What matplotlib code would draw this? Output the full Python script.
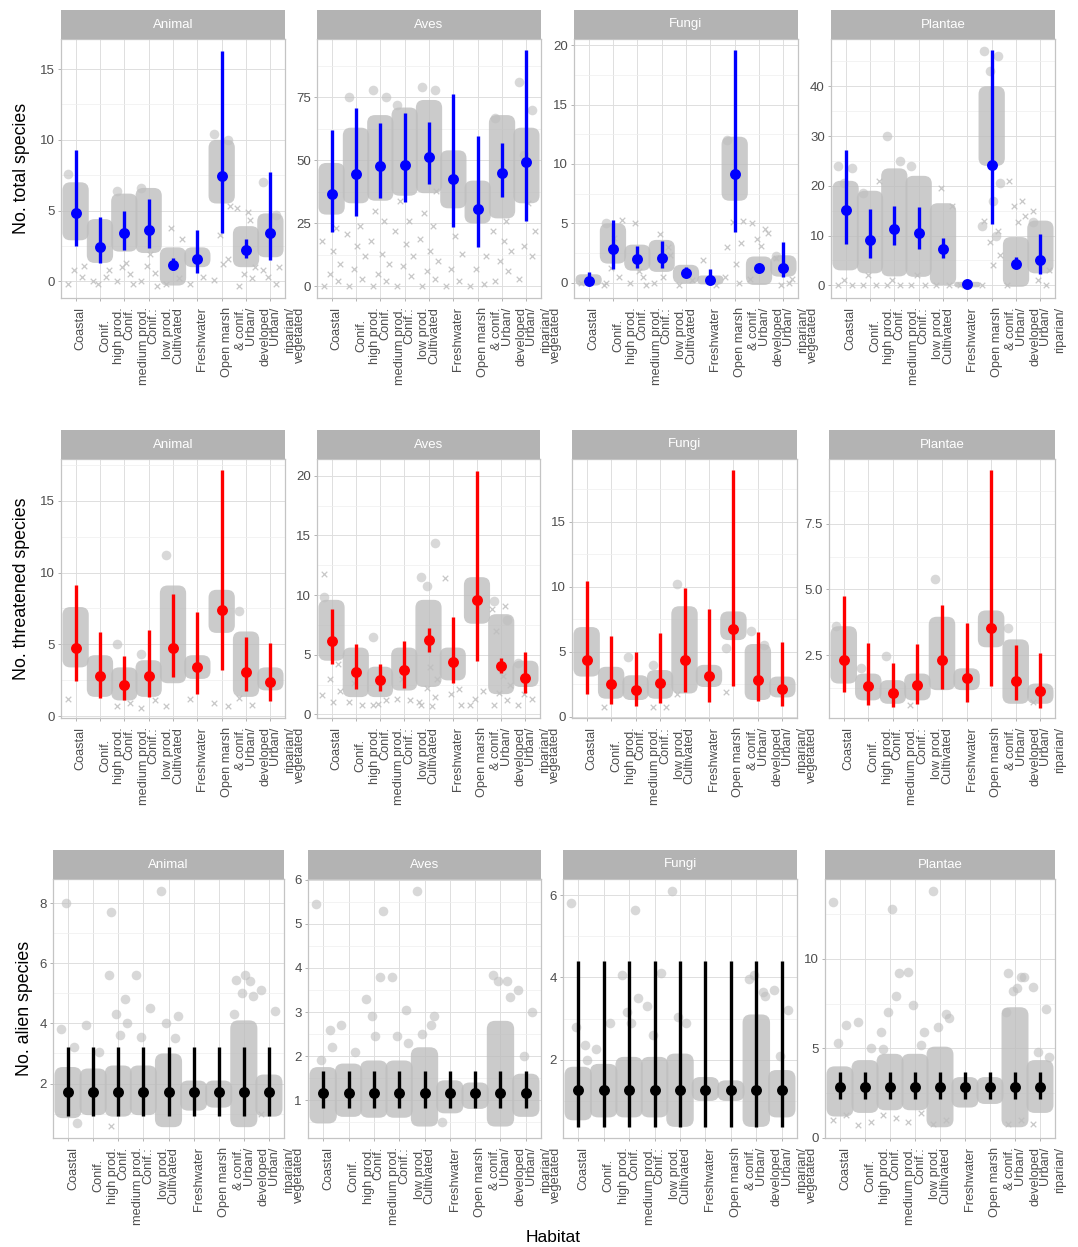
import matplotlib
matplotlib.use("Agg")
import matplotlib.pyplot as plt
from matplotlib.patches import FancyBboxPatch
from matplotlib.transforms import blended_transform_factory, ScaledTranslation
from matplotlib.ticker import MultipleLocator, FixedLocator, FormatStrFormatter

plt.rcParams['font.family'] = ['Liberation Sans', 'DejaVu Sans']

# ---------------- data ----------------
kingdoms = ["Animal", "Aves", "Fungi", "Plantae"]
habitats = ["Coastal", "Conif. high prod.", "Conif. medium prod.", "Conif.: low prod.",
            "Cultivated", "Freshwater", "Open marsh", "Urban/ & conif.", "Urban/ developed"]
# text pieces printed under each tick (left line, right line), last slot spills over
tick_label_lines = [("", "Coastal"), ("", "Conif."), ("high prod.", "Conif."),
                    ("medium prod.", "Conif.:"), ("low prod.", "Cultivated"), ("", "Freshwater"),
                    ("", "Open marsh"), ("& conif.", "Urban/"), ("developed", "Urban/"),
                    ("riparian/", "vegetated")]

# row 1: total species (estimate, lower, upper)
total_est = {"Animal": [4.8, 2.43, 3.38, 3.61, 1.18, 1.56, 7.47, 2.24, 3.43],
             "Aves": [36.6, 44.5, 47.8, 48.1, 51.5, 42.5, 30.8, 44.9, 49.2],
             "Fungi": [0.11, 2.82, 1.97, 2.08, 0.82, 0.25, 9.18, 1.24, 1.24],
             "Plantae": [15.1, 9.08, 11.4, 10.6, 7.26, 0.2, 24.2, 4.37, 5.04]}
total_lo = {"Animal": [2.5, 1.32, 2.24, 2.32, 0.83, 0.61, 3.43, 1.68, 1.54],
            "Aves": [21.6, 27.9, 35.0, 33.7, 40.6, 23.4, 15.7, 35.3, 26.0],
            "Fungi": [-0.2, 1.18, 1.27, 1.24, 0.48, -0.14, 4.28, 0.9, 0.48],
            "Plantae": [8.27, 5.5, 8.2, 7.2, 5.5, -0.2, 12.3, 3.7, 2.35]}
total_hi = {"Animal": [9.3, 4.56, 5.0, 5.79, 1.68, 3.66, 16.3, 3.0, 7.75],
            "Aves": [62.1, 71.0, 65.0, 68.8, 65.4, 76.5, 59.7, 56.8, 93.7],
            "Fungi": [0.9, 5.27, 3.07, 3.52, 1.32, 1.18, 19.6, 1.6, 3.44],
            "Plantae": [27.1, 15.3, 16.0, 15.8, 9.55, 0.6, 47.3, 5.7, 10.4]}
# observed site values: dense range per habitat
total_obs_lo = {"Animal": [2.9, 1.3, 2.1, 2.0, -0.3, 1.0, 5.5, 1.0, 1.7],
                "Aves": [28.5, 33, 34, 36, 37, 31, 25, 27, 33],
                "Fungi": [-0.25, 1.6, 1.0, 0.9, -0.1, -0.15, 6.9, -0.2, 0.5],
                "Plantae": [3.0, 2.4, 1.8, 1.7, 0.0, -0.4, 24.0, -0.3, 2.4]}
total_obs_hi = {"Animal": [7.0, 4.4, 6.2, 6.6, 2.4, 2.4, 10.0, 3.9, 4.8],
                "Aves": [49, 63, 68, 71, 74, 54, 42, 68, 63],
                "Fungi": [0.7, 5.0, 3.2, 3.6, 1.5, 0.6, 12.3, 2.2, 2.3],
                "Plantae": [21.0, 19.0, 23.5, 22.0, 16.5, 0.7, 40.0, 9.7, 13.0]}
# isolated sites (habitat index, value)
total_sites = {"Animal": [(0, 7.6), (2, 6.4), (3, 6.6), (6, 10.4), (6, 10.0), (8, 7.0), (8, 4.7)],
               "Aves": [(1, 75), (2, 78), (2, 75), (3, 72), (4, 79), (4, 78), (7, 67), (8, 81), (8, 70), (8, 52)],
               "Fungi": [(1, 5.0), (6, 12.0), (8, 2.2)],
               "Plantae": [(0, 24.0), (0, 23.5), (0, 20.5), (1, 18.5), (2, 30.0), (2, 25.0), (3, 24.0),
                           (6, 47.0), (6, 46.0), (6, 43.0), (6, 20.5), (6, 17.0), (6, 12.0), (6, 10.0), (8, 12.8)]}
# sites drawn with crosses
total_cross = {"Animal": [(0, -0.2), (0, 0.3), (0, 0.8), (0, 1.1), (1, 0.0), (1, 0.3), (1, -0.2), (1, 0.8),
                          (2, 0.0), (2, 0.5), (2, 1.0), (2, -0.2), (2, 1.3), (3, 0.0), (3, 0.6), (3, 1.1),
                          (3, -0.3), (3, 1.9), (4, -0.2), (4, 0.2), (4, 3.8), (4, 3.0), (5, -0.2), (5, 0.3),
                          (6, 0.1), (6, 1.6), (6, 3.3), (6, 5.3), (6, 1.2), (7, -0.3), (7, 0.2), (7, 0.5),
                          (7, 1.0), (7, 4.9), (7, 5.2), (7, 4.3), (8, 0.8), (8, -0.2), (8, 0.3), (8, 1.0)],
               "Aves": [(0, 0), (0, 2), (0, 5), (0, 9), (0, 14), (0, 18), (0, 23),
                        (1, 0), (1, 3), (1, 7), (1, 12), (1, 16), (1, 21), (1, 24),
                        (2, 0), (2, 2), (2, 5), (2, 9), (2, 13), (2, 18), (2, 26), (2, 30),
                        (3, 0), (3, 4), (3, 8), (3, 12), (3, 17), (3, 22), (3, 26), (3, 34),
                        (4, 0), (4, 3), (4, 6), (4, 10), (4, 14), (4, 19), (4, 24), (4, 29), (4, 38),
                        (5, 0), (5, 2), (5, 7), (5, 13), (5, 20), (6, 0), (6, 1), (6, 7), (6, 12),
                        (7, 2), (7, 6), (7, 10), (7, 14), (7, 18), (7, 22), (7, 26),
                        (8, 3), (8, 12), (8, 16), (8, 22), (8, 33)],
               "Fungi": [(0, 0.0), (1, 0.0), (1, 0.5), (1, 1.2), (1, 5.3), (1, 3.8), (1, -0.2),
                         (2, 0.0), (2, 0.5), (2, 5.0), (2, -0.2), (2, 1.0), (3, 0.0), (3, 3.0), (3, 4.1),
                         (3, 2.3), (3, 0.5), (4, -0.2), (4, 0.2), (5, 1.9), (5, -0.2),
                         (6, 3.0), (6, 3.3), (6, 5.1), (6, 5.2), (6, 1.6), (6, 0.5), (6, 0.0),
                         (7, 5.0), (7, 4.5), (7, 3.7), (7, 4.2), (7, 3.1), (7, 0.3),
                         (8, 2.1), (8, 0.0), (8, -0.2), (8, 0.3)],
               "Plantae": [(0, 0), (0, 0), (0, 1), (1, 0), (1, 0), (1, 2), (1, 21), (2, 0), (2, 0), (2, 1),
                           (3, 0), (3, 0), (3, 2), (4, 0), (4, 0), (4, 19.5), (4, 16), (5, 0),
                           (6, 13), (6, 11), (6, 8.7), (6, 6), (6, 4), (6, 0), (7, 21), (7, 17), (7, 16),
                           (7, 14), (7, 12.8), (7, 0), (8, 15), (8, 0), (8, 1), (8, 3)]}

# row 2: threatened species
threat_est = {"Animal": [4.77, 2.79, 2.21, 2.83, 4.77, 3.41, 7.38, 3.09, 2.39],
              "Aves": [6.18, 3.55, 2.88, 3.69, 6.21, 4.39, 9.57, 4.03, 3.08],
              "Fungi": [4.36, 2.56, 2.05, 2.62, 4.36, 3.13, 6.74, 2.87, 2.18],
              "Plantae": [2.31, 1.33, 1.06, 1.36, 2.31, 1.65, 3.55, 1.51, 1.14]}
threat_lo = {"Animal": [2.44, 1.30, 1.16, 1.35, 2.70, 1.53, 3.2, 1.74, 1.07],
             "Aves": [4.2, 2.15, 1.96, 2.24, 5.23, 2.63, 4.45, 3.47, 1.79],
             "Fungi": [1.79, 1.03, 0.82, 1.08, 1.92, 1.15, 2.38, 1.23, 0.82],
             "Plantae": [1.1, 0.6, 0.53, 0.63, 1.22, 0.72, 1.33, 0.78, 0.5]}
threat_hi = {"Animal": [9.14, 5.83, 4.2, 6.0, 8.49, 7.27, 17.1, 5.53, 5.13],
             "Aves": [8.81, 5.87, 4.2, 6.15, 7.27, 8.17, 20.4, 4.73, 5.23],
             "Fungi": [10.46, 6.23, 5.0, 6.41, 9.87, 8.31, 18.92, 6.49, 5.77],
             "Plantae": [4.75, 2.98, 2.22, 2.92, 4.41, 3.71, 9.53, 2.87, 2.59]}
threat_obs_lo = {"Animal": [3.4, 1.35, 1.1, 1.35, 2.3, 2.6, 5.8, 1.35, 1.8],
                 "Aves": [4.5, 1.45, 1.45, 2.0, 2.3, 2.85, 7.6, 1.7, 2.3],
                 "Fungi": [3.1, 1.4, 1.3, 1.4, 1.8, 2.3, 5.9, 1.3, 1.5],
                 "Plantae": [1.42, 0.78, 0.65, 0.78, 1.17, 1.17, 2.8, 0.65, 0.65]}
threat_obs_hi = {"Animal": [7.6, 4.25, 3.4, 3.9, 9.1, 4.25, 8.8, 5.9, 3.4],
                 "Aves": [9.6, 5.6, 4.0, 5.6, 9.6, 5.6, 11.5, 8.4, 4.5],
                 "Fungi": [6.9, 3.85, 3.2, 3.6, 8.5, 4.0, 8.1, 5.6, 3.1],
                 "Plantae": [3.6, 1.8, 1.55, 1.8, 3.96, 2.0, 4.2, 3.1, 1.42]}
threat_sites = {"Animal": [(2, 5.0), (3, 4.3), (4, 11.2), (7, 7.3)],
                "Aves": [(0, 9.8), (2, 6.5), (4, 11.5), (4, 14.4), (4, 10.8), (7, 9.5), (7, 7.9), (8, 4.3)],
                "Fungi": [(2, 4.6), (3, 4.0), (4, 10.2), (6, 5.3), (7, 6.6), (7, 5.5)],
                "Plantae": [(0, 3.6), (1, 2.0), (2, 2.45), (4, 5.4), (7, 3.55)]}
threat_cross = {"Animal": [(0, 1.2), (2, 0.7), (2, 0.9), (3, 0.6), (3, 1.1), (4, 0.7), (5, 1.2),
                           (6, 0.9), (6, 0.7), (7, 1.3), (7, 0.8)],
                "Aves": [(0, 11.8), (0, 4.2), (0, 3.0), (0, 2.0), (0, 1.0), (0, 1.6), (1, 1.0), (1, 0.8),
                         (1, 2.6), (2, 0.8), (2, 1.2), (2, 0.9), (3, 1.3), (3, 1.2), (3, 3.0),
                         (4, 0.8), (4, 1.5), (4, 2.2), (4, 3.0), (4, 4.0), (4, 1.0), (4, 0.7),
                         (5, 11.4), (5, 2.1), (5, 1.7), (5, 0.8), (6, 0.8), (6, 2.0), (6, 1.3),
                         (7, 0.8), (7, 1.2), (7, 1.8), (7, 2.5), (7, 3.2), (7, 8.8), (7, 9.1), (7, 7.0),
                         (8, 0.8), (8, 1.3), (8, 1.7)],
                "Fungi": [(1, 0.8), (3, 0.8), (3, 0.8), (4, 1.8), (6, 1.9)],
                "Plantae": [(3, 0.6), (8, 0.7)]}

# row 3: alien species
alien_est = {"Animal": [1.72] * 9, "Aves": [1.17] * 9, "Fungi": [1.26] * 9, "Plantae": [2.82] * 9}
alien_lo = {"Animal": [0.91] * 9, "Aves": [0.83] * 9, "Fungi": [0.37] * 9, "Plantae": [2.16] * 9}
alien_hi = {"Animal": [3.2] * 9, "Aves": [1.66] * 9, "Fungi": [4.41] * 9, "Plantae": [3.66] * 9}
alien_obs_lo = {"Animal": [0.85, 0.95, 0.9, 0.95, 0.55, 1.1, 1.2, 0.55, 0.9],
                "Aves": [0.47, 0.62, 0.6, 0.6, 0.4, 0.7, 0.8, 0.4, 0.62],
                "Fungi": [0.53, 0.6, 0.6, 0.6, 0.37, 1.0, 1.0, 0.37, 0.6],
                "Plantae": [1.2, 1.4, 1.55, 1.55, 0.6, 1.7, 1.9, 0.6, 1.4]}
alien_obs_hi = {"Animal": [2.55, 2.5, 2.6, 2.6, 3.0, 2.1, 2.1, 4.1, 2.3],
                "Aves": [1.75, 1.83, 1.9, 1.9, 2.2, 1.45, 1.4, 2.8, 1.6],
                "Fungi": [1.83, 1.9, 2.07, 2.07, 2.15, 1.58, 1.5, 3.1, 1.75],
                "Plantae": [4.0, 4.35, 4.7, 4.7, 5.1, 3.4, 3.4, 7.3, 4.35]}
alien_sites = {"Animal": [(0, 3.8), (0, 3.2), (0, 8.0), (0, 0.7), (1, 3.95), (1, 3.05), (2, 7.7), (2, 4.8),
                          (2, 4.3), (2, 4.0), (2, 3.6), (2, 5.6), (3, 5.6), (3, 4.5), (3, 3.55), (4, 8.4),
                          (4, 3.5), (4, 4.0), (4, 4.25), (7, 5.45), (7, 5.4), (7, 5.0), (7, 4.9), (7, 5.6),
                          (7, 4.3), (8, 5.1), (8, 4.4)],
               "Aves": [(0, 5.45), (0, 2.6), (0, 1.9), (0, 2.2), (1, 2.7), (1, 2.1), (2, 3.3), (2, 3.8),
                        (2, 2.9), (2, 5.3), (2, 2.45), (3, 3.8), (3, 3.05), (3, 2.45), (3, 2.3), (4, 5.75),
                        (4, 2.7), (4, 2.5), (4, 2.9), (5, 0.5), (7, 3.85), (7, 3.7), (7, 3.7), (7, 3.35),
                        (8, 3.5), (8, 3.0), (8, 2.0)],
               "Fungi": [(0, 5.8), (0, 2.35), (0, 2.8), (0, 2.0), (1, 2.25), (1, 2.9), (2, 4.07), (2, 5.64),
                         (2, 3.15), (2, 3.5), (2, 2.9), (3, 3.3), (3, 4.1), (3, 2.6), (4, 6.1), (4, 2.9),
                         (4, 3.05), (7, 3.95), (7, 3.65), (7, 4.07), (7, 3.55), (8, 3.7), (8, 3.2), (8, 2.1)],
               "Plantae": [(0, 13.15), (0, 6.3), (0, 5.3), (1, 6.5), (1, 5.0), (2, 4.95), (2, 7.9), (2, 7.05),
                           (2, 9.2), (2, 12.8), (2, 5.9), (3, 9.25), (3, 5.2), (3, 7.4), (3, 5.9), (4, 13.8),
                           (4, 6.95), (4, 6.2), (4, 6.7), (7, 9.2), (7, 9.0), (7, 8.2), (7, 9.0), (7, 8.35),
                           (7, 7.05), (8, 8.45), (8, 7.2), (8, 4.8), (8, 4.5)]}
alien_cross = {"Animal": [(2, 0.6), (8, 1.0)],
               "Aves": [],
               "Fungi": [],
               "Plantae": [(0, 1.0), (0, 1.3), (1, 0.7), (1, 0.9), (2, 1.3), (2, 1.1), (3, 0.9), (3, 1.4),
                           (4, 0.8), (4, 1.0), (7, 0.8), (7, 1.0), (8, 0.8)]}

# ---------------- layout ----------------
W, H = 1078, 1247
fig = plt.figure(figsize=(W / 100, H / 100), dpi=100)

rows = [
    dict(title="No. total species", colour="#0000FF", est=total_est, lo=total_lo, hi=total_hi,
         olo=total_obs_lo, ohi=total_obs_hi, sites=total_sites, cross=total_cross,
         strip_top=10, panel_top=39, panel_bot=298,
         cols=[(61, 285), (317, 541), (574, 798), (831, 1055)],
         ylims=[(-1.18, 17.13), (-4.6, 98.2), (-1.3, 20.54), (-2.55, 49.5)],
         yticks=[[0, 5, 10, 15], [0, 25, 50, 75], [0, 5, 10, 15, 20], [0, 10, 20, 30, 40]],
         title_x=22),
    dict(title="No. threatened species", colour="#FF0000", est=threat_est, lo=threat_lo, hi=threat_hi,
         olo=threat_obs_lo, ohi=threat_obs_hi, sites=threat_sites, cross=threat_cross,
         strip_top=430, panel_top=459, panel_bot=718,
         cols=[(61, 285), (317, 540), (572, 797), (829, 1055)],
         ylims=[(-0.12, 17.9), (-0.3, 21.4), (-0.08, 19.8), (0.11, 9.96)],
         yticks=[[0, 5, 10, 15], [0, 5, 10, 15, 20], [0, 5, 10, 15], [2.5, 5.0, 7.5]],
         title_x=22),
    dict(title="No. alien species", colour="#000000", est=alien_est, lo=alien_lo, hi=alien_hi,
         olo=alien_obs_lo, ohi=alien_obs_hi, sites=alien_sites, cross=alien_cross,
         strip_top=850, panel_top=879, panel_bot=1138,
         cols=[(53, 284), (308, 541), (563, 797), (825, 1055)],
         ylims=[(0.19, 8.8), (0.14, 6.02), (0.1, 6.39), (0.0, 14.46)],
         yticks=[[2, 4, 6, 8], [1, 2, 3, 4, 5, 6], [2, 4, 6], [0, 5, 10]],
         title_x=25),
]

JITTER = (-0.3, 0.25, -0.08, 0.36, 0.06, -0.38, 0.16, -0.2, 0.3)
GREY = "#BEBEBE"
TXT = "#4D4D4D"


def frac(x0, y0, x1, y1):
    return [x0 / W, 1 - y1 / H, (x1 - x0) / W, (y1 - y0) / H]


def band(ax, x, lo, hi, w, alpha, px_x, px_y):
    # cloud of overlapping site points shown as one soft rounded column
    h = max(hi - lo, 1e-6)
    ma = px_x / px_y
    rs = min(w * 0.3, h / ma / 2)
    p = FancyBboxPatch((x - w / 2, lo), w, h,
                       boxstyle="round,pad=0,rounding_size=%f" % rs,
                       mutation_aspect=ma, fc=GREY, ec="none", alpha=alpha, zorder=2)
    ax.add_patch(p)


def jittered(pairs):
    count = {}
    xs, ys = [], []
    for h, v in pairs:
        k = count.get(h, 0)
        count[h] = k + 1
        xs.append(h + JITTER[k % len(JITTER)])
        ys.append(v)
    return xs, ys


for r, row in enumerate(rows):
    for c, king in enumerate(kingdoms):
        x0, x1 = row["cols"][c]
        ax = fig.add_axes(frac(x0, row["panel_top"], x1, row["panel_bot"]))
        sax = fig.add_axes(frac(x0, row["strip_top"], x1, row["panel_top"]))

        # strip
        sax.set_facecolor("#B3B3B3")
        sax.set_xticks([])
        sax.set_yticks([])
        for sp in sax.spines.values():
            sp.set_visible(False)
        sax.text(0.5, 0.5, king, color="white", fontsize=9.5, ha="center", va="center",
                 transform=sax.transAxes)

        # panel
        ylim = row["ylims"][c]
        ax.set_xlim(-0.6, 8.6)
        ax.set_ylim(*ylim)
        yt = row["yticks"][c]
        ax.yaxis.set_major_locator(FixedLocator(yt))
        ax.yaxis.set_minor_locator(MultipleLocator((yt[1] - yt[0]) / 2))
        if c == 3 and r == 1:
            ax.yaxis.set_major_formatter(FormatStrFormatter("%.1f"))
        ax.set_xticks(range(len(habitats)))
        ax.set_xticklabels([])
        ax.set_axisbelow(True)
        ax.grid(which="major", color="#DEDEDE", lw=0.7)
        ax.grid(which="minor", axis="y", color="#EFEFEF", lw=0.5)
        for sp in ax.spines.values():
            sp.set_color("#C4C4C4")
            sp.set_linewidth(0.9)
        ax.tick_params(which="major", length=2.5, width=0.7, color="#B3B3B3",
                       labelsize=9.5, labelcolor=TXT, pad=2)
        ax.tick_params(which="minor", length=0)

        pos = ax.get_position()
        px_x = pos.width * W / 9.2
        px_y = pos.height * H / (ylim[1] - ylim[0])

        # observed sites: dense clouds, isolated points and crosses
        xs, ys = jittered(row["cross"][king])
        ax.scatter(xs, ys, marker="x", s=16, c=GREY, alpha=0.85, linewidths=0.9, zorder=1.5)
        for i in range(len(habitats)):
            band(ax, i, row["olo"][king][i], row["ohi"][king][i], 1.08, 0.8, px_x, px_y)
        xs, ys = jittered(row["sites"][king])
        ax.scatter(xs, ys, s=48, c=GREY, alpha=0.6, linewidths=0, zorder=3)

        # estimates with intervals
        hx = list(range(len(habitats)))
        ax.vlines(hx, row["lo"][king], row["hi"][king], colors=row["colour"], lw=2.4, zorder=5)
        ax.scatter(hx, row["est"][king], s=62, c=row["colour"], linewidths=0, zorder=6)

        # habitat labels (two-line pieces under each tick)
        base = blended_transform_factory(ax.transData, ax.transAxes)
        for i, (left, right) in enumerate(tick_label_lines):
            for txt, dx in ((left, -5), (right, 5)):
                if not txt:
                    continue
                if c == 3 and i == len(tick_label_lines) - 1 and dx > 0:
                    continue
                drop = 9 + (12 if i == 1 else 0)
                tr = base + ScaledTranslation(dx / 100, -drop / 100, fig.dpi_scale_trans)
                ax.text(i, 0, txt, transform=tr, rotation=90, ha="center", va="top",
                        fontsize=9.2, color=TXT, clip_on=False)

    fig.text(row["title_x"] / W, 1 - (row["panel_top"] + row["panel_bot"]) / 2 / H, row["title"],
             rotation=90, ha="center", va="center", fontsize=12.8, color="black")

fig.text(553 / W, 1 - 1238 / H, "Habitat", ha="center", va="center", fontsize=12.5, color="black")

fig.savefig("out.png", dpi=100, facecolor="white")
